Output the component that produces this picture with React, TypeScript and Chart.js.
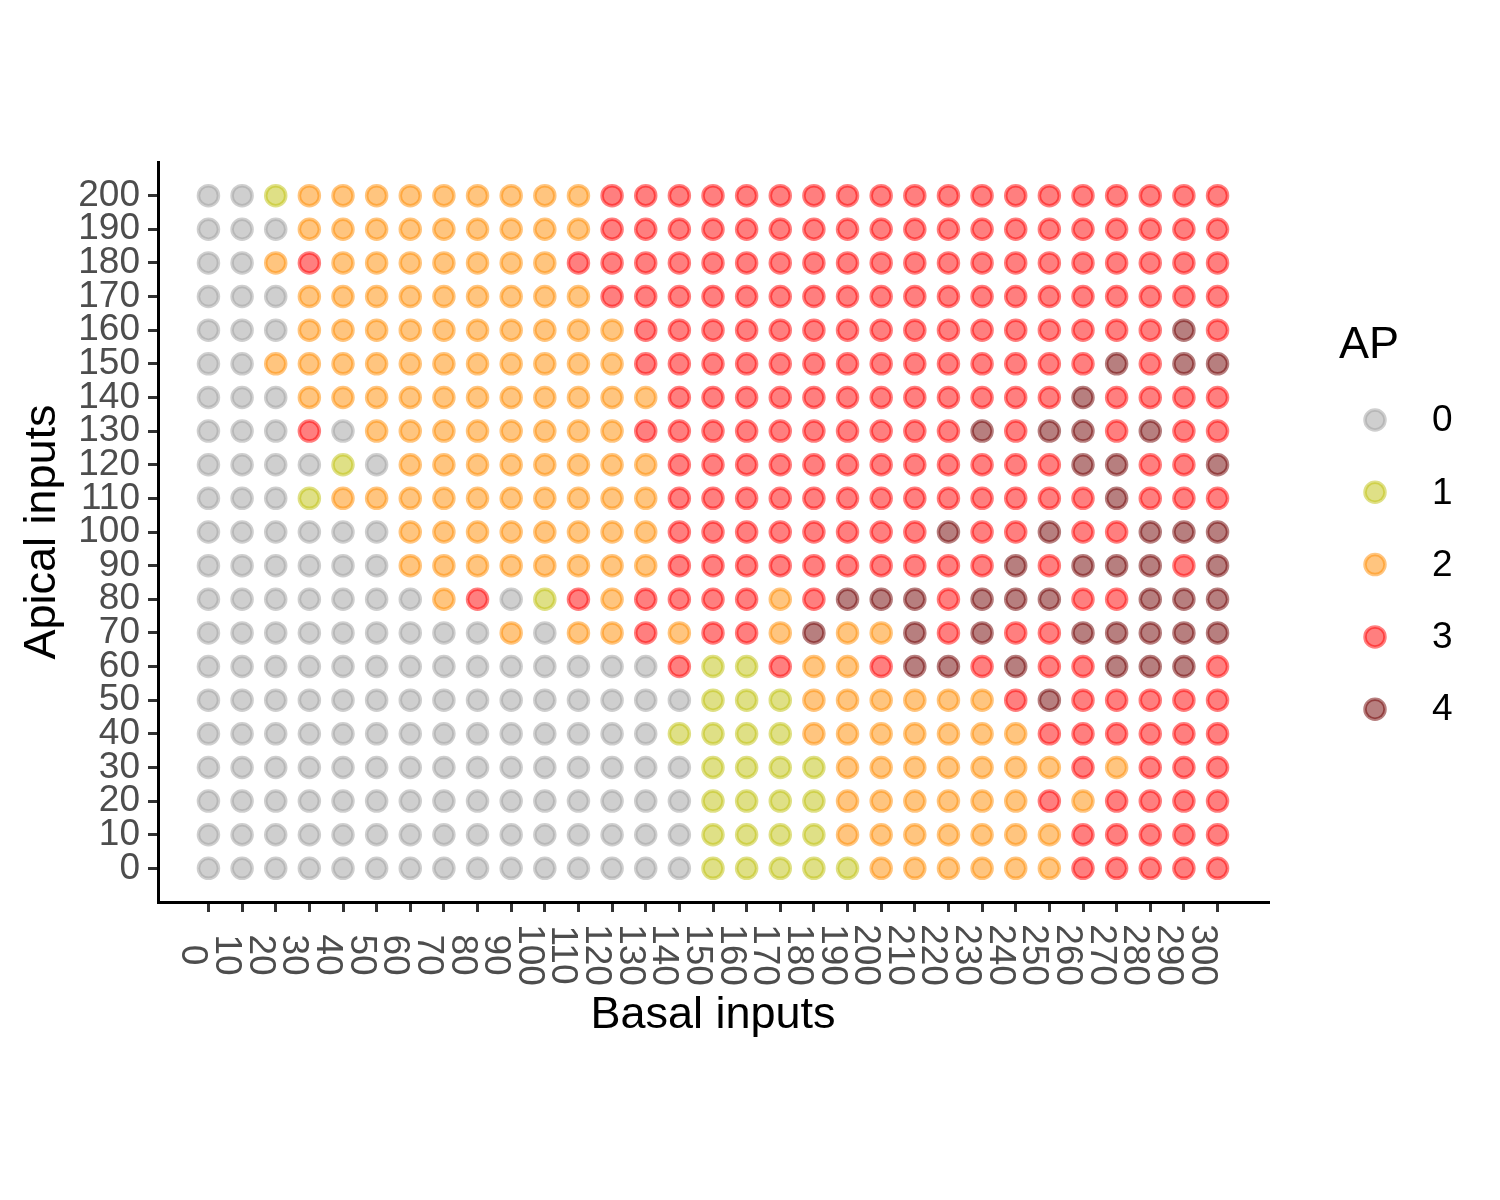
import React, { useEffect, useRef } from "react";
import { Chart, registerables } from "chart.js";

Chart.register(...registerables);

// ---------- data ----------
const basalInputs = [0, 10, 20, 30, 40, 50, 60, 70, 80, 90, 100, 110, 120, 130, 140, 150, 160, 170, 180, 190, 200, 210, 220, 230, 240, 250, 260, 270, 280, 290, 300];
const apicalInputs = [200, 190, 180, 170, 160, 150, 140, 130, 120, 110, 100, 90, 80, 70, 60, 50, 40, 30, 20, 10, 0];
const apicalTicks = [0, 10, 20, 30, 40, 50, 60, 70, 80, 90, 100, 110, 120, 130, 140, 150, 160, 170, 180, 190, 200];
const apLevels = ["0", "1", "2", "3", "4"];
const apColors = ["rgba(160,160,160,0.5)", "rgba(191,193,13,0.5)", "rgba(255,140,0,0.5)", "rgba(255,0,0,0.5)", "rgba(111,0,0,0.5)"];

// AP value per basal input (0..300), one row per apical input
const ap200 = [0, 0, 1, 2, 2, 2, 2, 2, 2, 2, 2, 2, 3, 3, 3, 3, 3, 3, 3, 3, 3, 3, 3, 3, 3, 3, 3, 3, 3, 3, 3];
const ap190 = [0, 0, 0, 2, 2, 2, 2, 2, 2, 2, 2, 2, 3, 3, 3, 3, 3, 3, 3, 3, 3, 3, 3, 3, 3, 3, 3, 3, 3, 3, 3];
const ap180 = [0, 0, 2, 3, 2, 2, 2, 2, 2, 2, 2, 3, 3, 3, 3, 3, 3, 3, 3, 3, 3, 3, 3, 3, 3, 3, 3, 3, 3, 3, 3];
const ap170 = [0, 0, 0, 2, 2, 2, 2, 2, 2, 2, 2, 2, 3, 3, 3, 3, 3, 3, 3, 3, 3, 3, 3, 3, 3, 3, 3, 3, 3, 3, 3];
const ap160 = [0, 0, 0, 2, 2, 2, 2, 2, 2, 2, 2, 2, 2, 3, 3, 3, 3, 3, 3, 3, 3, 3, 3, 3, 3, 3, 3, 3, 3, 4, 3];
const ap150 = [0, 0, 2, 2, 2, 2, 2, 2, 2, 2, 2, 2, 2, 3, 3, 3, 3, 3, 3, 3, 3, 3, 3, 3, 3, 3, 3, 4, 3, 4, 4];
const ap140 = [0, 0, 0, 2, 2, 2, 2, 2, 2, 2, 2, 2, 2, 2, 3, 3, 3, 3, 3, 3, 3, 3, 3, 3, 3, 3, 4, 3, 3, 3, 3];
const ap130 = [0, 0, 0, 3, 0, 2, 2, 2, 2, 2, 2, 2, 2, 3, 3, 3, 3, 3, 3, 3, 3, 3, 3, 4, 3, 4, 4, 3, 4, 3, 3];
const ap120 = [0, 0, 0, 0, 1, 0, 2, 2, 2, 2, 2, 2, 2, 2, 3, 3, 3, 3, 3, 3, 3, 3, 3, 3, 3, 3, 4, 4, 3, 3, 4];
const ap110 = [0, 0, 0, 1, 2, 2, 2, 2, 2, 2, 2, 2, 2, 2, 3, 3, 3, 3, 3, 3, 3, 3, 3, 3, 3, 3, 3, 4, 3, 3, 3];
const ap100 = [0, 0, 0, 0, 0, 0, 2, 2, 2, 2, 2, 2, 2, 2, 3, 3, 3, 3, 3, 3, 3, 3, 4, 3, 3, 4, 3, 3, 4, 4, 4];
const ap90 = [0, 0, 0, 0, 0, 0, 2, 2, 2, 2, 2, 2, 2, 2, 3, 3, 3, 3, 3, 3, 3, 3, 3, 3, 4, 3, 4, 4, 4, 3, 4];
const ap80 = [0, 0, 0, 0, 0, 0, 0, 2, 3, 0, 1, 3, 2, 3, 3, 3, 3, 2, 3, 4, 4, 4, 3, 4, 4, 4, 3, 3, 4, 4, 4];
const ap70 = [0, 0, 0, 0, 0, 0, 0, 0, 0, 2, 0, 2, 2, 3, 2, 3, 3, 2, 4, 2, 2, 4, 3, 4, 3, 3, 4, 4, 4, 4, 4];
const ap60 = [0, 0, 0, 0, 0, 0, 0, 0, 0, 0, 0, 0, 0, 0, 3, 1, 1, 3, 2, 2, 3, 4, 4, 3, 4, 3, 3, 4, 4, 4, 3];
const ap50 = [0, 0, 0, 0, 0, 0, 0, 0, 0, 0, 0, 0, 0, 0, 0, 1, 1, 1, 2, 2, 2, 2, 2, 2, 3, 4, 3, 3, 3, 3, 3];
const ap40 = [0, 0, 0, 0, 0, 0, 0, 0, 0, 0, 0, 0, 0, 0, 1, 1, 1, 1, 2, 2, 2, 2, 2, 2, 2, 3, 3, 3, 3, 3, 3];
const ap30 = [0, 0, 0, 0, 0, 0, 0, 0, 0, 0, 0, 0, 0, 0, 0, 1, 1, 1, 1, 2, 2, 2, 2, 2, 2, 2, 3, 2, 3, 3, 3];
const ap20 = [0, 0, 0, 0, 0, 0, 0, 0, 0, 0, 0, 0, 0, 0, 0, 1, 1, 1, 1, 2, 2, 2, 2, 2, 2, 3, 2, 3, 3, 3, 3];
const ap10 = [0, 0, 0, 0, 0, 0, 0, 0, 0, 0, 0, 0, 0, 0, 0, 1, 1, 1, 1, 2, 2, 2, 2, 2, 2, 2, 3, 3, 3, 3, 3];
const ap0 = [0, 0, 0, 0, 0, 0, 0, 0, 0, 0, 0, 0, 0, 0, 0, 1, 1, 1, 1, 1, 2, 2, 2, 2, 2, 2, 3, 3, 3, 3, 3];

const apGrid = [ap200, ap190, ap180, ap170, ap160, ap150, ap140, ap130, ap120, ap110, ap100, ap90, ap80, ap70, ap60, ap50, ap40, ap30, ap20, ap10, ap0];

const FONT = '"Liberation Sans", Arial, Helvetica, sans-serif';

export default function App() {
  const canvasRef = useRef<HTMLCanvasElement | null>(null);

  useEffect(() => {
    const canvas = canvasRef.current;
    if (!canvas) return;

    const datasets = apLevels.map((lvl, k) => {
      const data: { x: number; y: number }[] = [];
      apGrid.forEach((row, i) => {
        row.forEach((v, j) => {
          if (v === k) data.push({ x: basalInputs[j], y: apicalInputs[i] });
        });
      });
      return {
        label: lvl,
        data,
        backgroundColor: apColors[k],
        borderColor: apColors[k],
        pointRadius: 10,
        pointBorderWidth: 3.5,
        pointHoverRadius: 10,
      };
    });

    const overlay = {
      id: "overlay",
      afterDraw(chart: any) {
        const ctx = chart.ctx as CanvasRenderingContext2D;
        const xs = chart.scales.x;
        const area = chart.chartArea;
        ctx.save();
        // x tick labels, rotated clockwise
        ctx.fillStyle = "#4d4d4d";
        ctx.font = `37px ${FONT}`;
        ctx.textAlign = "center";
        ctx.textBaseline = "alphabetic";
        basalInputs.forEach((v) => {
          const px = xs.getPixelForValue(v);
          ctx.save();
          ctx.translate(px - 26, 955);
          ctx.rotate(Math.PI / 2);
          ctx.fillText(String(v), 0, 0);
          ctx.restore();
        });
        // axis titles
        ctx.fillStyle = "#000";
        ctx.font = `45px ${FONT}`;
        ctx.fillText("Basal inputs", (area.left + area.right) / 2, 1028);
        ctx.save();
        ctx.translate(55, (area.top + area.bottom) / 2);
        ctx.rotate(-Math.PI / 2);
        ctx.fillText("Apical inputs", 0, 0);
        ctx.restore();
        // legend
        ctx.textAlign = "left";
        ctx.fillText("AP", 1339, 358);
        ctx.font = `37px ${FONT}`;
        ctx.textBaseline = "middle";
        apLevels.forEach((lvl, k) => {
          const cy = 420 + k * 72.3;
          ctx.beginPath();
          ctx.arc(1375, cy, 10, 0, Math.PI * 2);
          ctx.fillStyle = apColors[k];
          ctx.fill();
          ctx.lineWidth = 3.5;
          ctx.strokeStyle = apColors[k];
          ctx.stroke();
          ctx.fillStyle = "#000";
          ctx.fillText(lvl, 1432, cy + 1);
        });
        ctx.restore();
      },
    };

    const chart = new Chart(canvas, {
      type: "scatter",
      data: { datasets },
      options: {
        responsive: false,
        animation: false,
        devicePixelRatio: 1,
        layout: { padding: { left: 0, right: 232, top: 162, bottom: 0 } },
        plugins: {
          legend: { display: false },
          tooltip: { enabled: false },
        },
        scales: {
          x: {
            type: "linear",
            min: -15,
            max: 315,
            afterFit: (s: any) => {
              s.height = 298;
            },
            afterBuildTicks: (s: any) => {
              s.ticks = basalInputs.map((v) => ({ value: v }));
            },
            ticks: { display: false, autoSkip: false },
            grid: { drawOnChartArea: false, drawTicks: true, tickLength: 10, color: "#333333", lineWidth: 3 },
            border: { display: true, color: "#000", width: 3 },
          },
          y: {
            type: "linear",
            min: -10,
            max: 210,
            afterFit: (s: any) => {
              s.width = 158;
            },
            afterBuildTicks: (s: any) => {
              s.ticks = apicalTicks.map((v) => ({ value: v }));
            },
            ticks: { autoSkip: false, color: "#4d4d4d", padding: 8, font: { size: 37, family: FONT } },
            grid: { drawOnChartArea: false, drawTicks: true, tickLength: 10, color: "#333333", lineWidth: 3 },
            border: { display: true, color: "#000", width: 3 },
          },
        },
      },
      plugins: [overlay],
    } as any);

    return () => chart.destroy();
  }, []);

  return (
    <div style={{ position: "absolute", left: 0, top: 0, width: 1500, height: 1200, background: "#fff" }}>
      <canvas ref={canvasRef} width={1500} height={1200} style={{ width: 1500, height: 1200, display: "block" }} />
    </div>
  );
}
